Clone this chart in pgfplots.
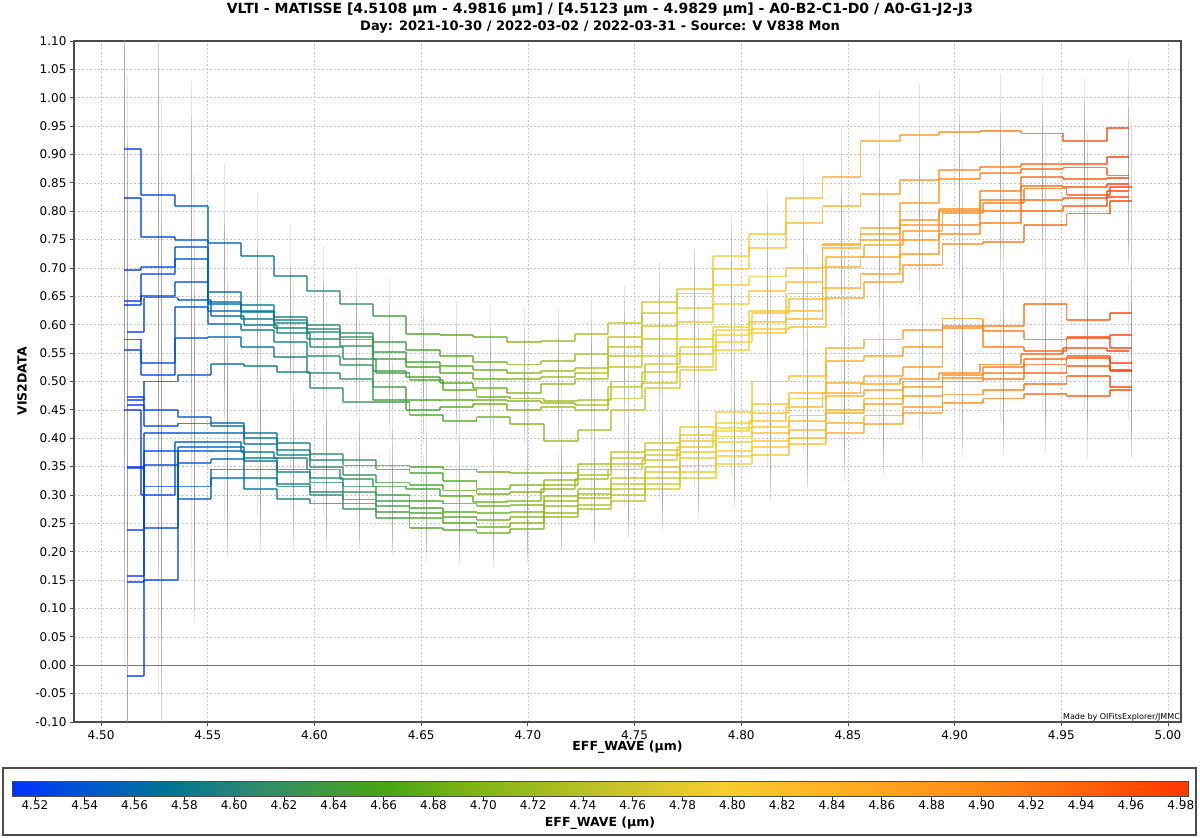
\documentclass[border=0pt]{standalone}
\usepackage{fontspec}
\setmainfont{DejaVu Sans}
\usepackage{pgfplots}
\usepackage{pgfplotstable}
\pgfplotsset{compat=1.18}

% one row per baseline series: s = wavelength-grid shift (0 or 0.0015 um),
% a0..a28 = VIS2DATA in the 29 spectral channels (4.5108 ... 4.9816 um)
\pgfplotstableread{
s a0 a1 a2 a3 a4 a5 a6 a7 a8 a9 a10 a11 a12 a13 a14 a15 a16 a17 a18 a19 a20 a21 a22 a23 a24 a25 a26 a27 a28
0 0.910 0.829 0.809 0.744 0.721 0.686 0.659 0.636 0.615 0.583 0.582 0.578 0.569 0.572 0.583 0.603 0.640 0.663 0.721 0.760 0.823 0.861 0.923 0.935 0.940 0.941 0.937 0.923 0.946
0 0.823 0.754 0.749 0.657 0.635 0.613 0.600 0.585 0.570 0.555 0.545 0.535 0.530 0.536 0.548 0.579 0.620 0.655 0.698 0.735 0.780 0.809 0.830 0.855 0.873 0.878 0.883 0.883 0.896
0 0.696 0.702 0.737 0.640 0.625 0.608 0.592 0.579 0.552 0.535 0.528 0.520 0.515 0.518 0.523 0.560 0.597 0.630 0.670 0.685 0.700 0.743 0.770 0.815 0.857 0.868 0.875 0.877 0.863
0 0.642 0.690 0.716 0.637 0.622 0.603 0.588 0.574 0.540 0.525 0.515 0.505 0.505 0.508 0.515 0.545 0.575 0.605 0.637 0.660 0.675 0.740 0.760 0.785 0.804 0.835 0.860 0.857 0.858
0 0.634 0.650 0.676 0.624 0.610 0.595 0.575 0.563 0.518 0.508 0.497 0.488 0.480 0.495 0.504 0.525 0.545 0.575 0.596 0.625 0.655 0.735 0.750 0.775 0.800 0.820 0.845 0.843 0.848
0.0015 0.588 0.648 0.643 0.615 0.600 0.585 0.560 0.540 0.515 0.502 0.485 0.473 0.470 0.465 0.468 0.500 0.531 0.560 0.590 0.620 0.645 0.720 0.740 0.765 0.797 0.815 0.840 0.829 0.843
0 0.574 0.533 0.632 0.602 0.590 0.570 0.545 0.529 0.490 0.467 0.468 0.467 0.465 0.462 0.459 0.490 0.517 0.548 0.582 0.605 0.625 0.702 0.720 0.750 0.775 0.800 0.820 0.823 0.835
0 0.555 0.511 0.576 0.578 0.560 0.543 0.515 0.505 0.468 0.450 0.455 0.461 0.450 0.455 0.450 0.470 0.497 0.525 0.555 0.585 0.610 0.664 0.690 0.725 0.760 0.780 0.800 0.810 0.825
0.0015 0.467 0.500 0.511 0.531 0.528 0.517 0.488 0.464 0.464 0.441 0.430 0.438 0.425 0.395 0.415 0.450 0.489 0.520 0.570 0.593 0.596 0.647 0.675 0.705 0.742 0.746 0.776 0.796 0.818
0.0015 0.473 0.450 0.438 0.427 0.410 0.391 0.372 0.362 0.352 0.350 0.345 0.341 0.338 0.339 0.354 0.375 0.392 0.420 0.447 0.500 0.509 0.559 0.574 0.590 0.611 0.597 0.637 0.608 0.620
0.0015 0.458 0.422 0.426 0.422 0.400 0.380 0.362 0.352 0.345 0.338 0.325 0.311 0.318 0.327 0.345 0.365 0.380 0.405 0.427 0.460 0.480 0.536 0.545 0.560 0.597 0.589 0.574 0.579 0.582
0.0015 0.349 0.410 0.409 0.409 0.390 0.370 0.350 0.335 0.322 0.318 0.308 0.302 0.305 0.318 0.336 0.355 0.370 0.395 0.418 0.445 0.470 0.497 0.510 0.525 0.594 0.560 0.553 0.576 0.559
0 0.450 0.300 0.394 0.394 0.375 0.365 0.345 0.328 0.315 0.311 0.298 0.288 0.290 0.310 0.328 0.345 0.362 0.385 0.412 0.430 0.455 0.480 0.495 0.505 0.515 0.530 0.548 0.559 0.553
0.0015 0.239 0.353 0.385 0.385 0.365 0.345 0.330 0.315 0.300 0.289 0.285 0.280 0.282 0.298 0.310 0.330 0.350 0.375 0.403 0.420 0.440 0.474 0.485 0.500 0.512 0.525 0.540 0.545 0.533
0.0015 0.157 0.315 0.377 0.378 0.360 0.340 0.322 0.305 0.290 0.277 0.270 0.268 0.270 0.289 0.301 0.320 0.340 0.365 0.394 0.410 0.430 0.450 0.470 0.490 0.506 0.515 0.530 0.541 0.521
0.0015 0.347 0.242 0.356 0.363 0.345 0.320 0.305 0.292 0.280 0.268 0.262 0.256 0.262 0.280 0.295 0.310 0.330 0.352 0.377 0.395 0.415 0.444 0.460 0.475 0.500 0.505 0.515 0.527 0.518
0.0015 0.147 0.151 0.315 0.345 0.330 0.315 0.300 0.285 0.270 0.260 0.250 0.243 0.250 0.268 0.283 0.300 0.320 0.340 0.368 0.385 0.400 0.427 0.440 0.455 0.477 0.485 0.495 0.509 0.491
0.0015 -0.019 0.378 0.293 0.330 0.310 0.293 0.285 0.275 0.260 0.242 0.238 0.233 0.240 0.262 0.275 0.290 0.310 0.330 0.354 0.370 0.390 0.409 0.425 0.445 0.462 0.470 0.478 0.474 0.485
}\T

\pgfplotsset{
  seg/.style={forget plot, mark=none, line width=1.9pt, opacity=0.7},
  ebar/.style={forget plot, mark=none, color=black!40, line width=1pt, opacity=0.25},
}
% horizontal step of channel k: {colormap value}{left edge}{width}{k}
\newcommand\hs[4]{\addplot[seg, color of colormap={#1}, quiver={u=#3, v=0}]
  table[x expr={#2+\thisrow{s}}, y=a#4] {\T};}
% vertical step at right edge of channel k: {colormap value}{edge}{k}{k+1}
\newcommand\vs[4]{\addplot[seg, color of colormap={#1}, quiver={u=0, v=\thisrow{a#4}-\thisrow{a#3}}]
  table[x expr={#2+\thisrow{s}}, y=a#3] {\T};}
% error bar of channel k: {centre}{k}{error}
\newcommand\eb[3]{\addplot[ebar, quiver={u=0, v=2*#3}]
  table[x expr={#1+\thisrow{s}}, y expr={\thisrow{a#2}-#3}] {\T};}

\begin{document}
\begin{tikzpicture}
\begin{axis}[
  name=main,
  scale only axis, width=1107pt, height=681pt,
  xmin=4.4873, xmax=5.0061, ymin=-0.10, ymax=1.10,
  xtick distance=0.05, ytick distance=0.05,
  /pgf/number format/assume math mode=true,
  /pgf/number format/fixed, /pgf/number format/fixed zerofill,
  /pgf/number format/precision=2,
  tick label style={font=\fontsize{12}{14}\selectfont},
  xticklabel style={yshift=-1.5pt},
  label style={font=\bfseries\fontsize{12.5}{15}\selectfont},
  xlabel={EFF\_WAVE (µm)}, ylabel={VIS2DATA},
  xlabel style={at={(axis description cs:0.5,-0.0367)}, anchor=center},
  ylabel style={at={(axis description cs:-0.047,0.5)}, anchor=center},
  grid=major,
  grid style={dash pattern=on 2pt off 2pt, black!22, line width=0.7pt},
  axis line style={black!70, line width=1.5pt},
  tick style={black!70, line width=0.8pt},
  tick align=outside, tick pos=left, major tick length=4pt,
  extra y ticks={0}, extra y tick labels={},
  extra y tick style={major grid style={solid, black!55, line width=0.9pt}},
  colormap={wave}{rgb255(0pt)=(0,50,255) rgb255(34pt)=(0,90,200)
    rgb255(64pt)=(0,118,145) rgb255(95pt)=(45,135,115) rgb255(119pt)=(60,150,75)
    rgb255(149pt)=(70,165,20) rgb255(184pt)=(125,180,20) rgb255(239pt)=(195,195,40)
    rgb255(286pt)=(248,205,45) rgb255(332pt)=(255,175,35) rgb255(393pt)=(255,135,20)
    rgb255(472pt)=(255,55,0)},
  point meta min=4.5108, point meta max=4.9829,
  colorbar horizontal,
  colorbar style={
    at={(parent axis.south)}, anchor=north,
    xshift=-27.5pt, yshift=-51pt,
    scale only axis, width=1176pt, height=15pt,
    xtick distance=0.02, ytick=\empty,
    xticklabel={\pgfmathprintnumber[assume math mode=true,fixed,fixed zerofill,precision=2]{\tick}},
    tick label style={font=\fontsize{12}{14}\selectfont},
    xticklabel style={yshift=3.5pt},
    xlabel={EFF\_WAVE (µm)},
    xlabel style={font=\bfseries\fontsize{12.5}{15}\selectfont,
      at={(axis description cs:0.5,-1.75)}, anchor=center},
    axis line style={black!70, line width=0.8pt},
    tick style={black!80, line width=0.8pt},
    tick align=outside, tick pos=left, major tick length=4pt,
  },
]
% error bars
\eb{4.5108}{0}{0.45}\eb{4.5267}{1}{0.35}\eb{4.5424}{2}{0.22}\eb{4.5579}{3}{0.14}
\eb{4.5733}{4}{0.11}\eb{4.5888}{5}{0.09}\eb{4.6043}{6}{0.08}\eb{4.6197}{7}{0.07}
\eb{4.6352}{8}{0.065}\eb{4.6509}{9}{0.06}\eb{4.6666}{10}{0.06}\eb{4.6823}{11}{0.06}
\eb{4.6982}{12}{0.06}\eb{4.7142}{13}{0.06}\eb{4.7298}{14}{0.06}\eb{4.7455}{15}{0.065}
\eb{4.7617}{16}{0.07}\eb{4.7783}{17}{0.07}\eb{4.7952}{18}{0.075}\eb{4.8123}{19}{0.08}
\eb{4.8294}{20}{0.08}\eb{4.8468}{21}{0.085}\eb{4.8650}{22}{0.09}\eb{4.8835}{23}{0.09}
\eb{4.9021}{24}{0.095}\eb{4.9213}{25}{0.10}\eb{4.9410}{26}{0.10}\eb{4.9609}{27}{0.11}
\eb{4.9816}{28}{0.12}
% horizontal steps
\hs{0}{4.5108}{0.00795}{0}\hs{33.7}{4.51875}{0.0158}{1}\hs{66.9}{4.53455}{0.0156}{2}
\hs{99.8}{4.55015}{0.01545}{3}\hs{132.4}{4.5656}{0.01545}{4}\hs{165.2}{4.58105}{0.0155}{5}
\hs{198.1}{4.59655}{0.01545}{6}\hs{230.7}{4.612}{0.01545}{7}\hs{263.5}{4.62745}{0.0156}{8}
\hs{296.8}{4.64305}{0.0157}{9}\hs{330.0}{4.65875}{0.0157}{10}\hs{363.3}{4.67445}{0.0158}{11}
\hs{397.0}{4.69025}{0.01595}{12}\hs{430.8}{4.7062}{0.0158}{13}\hs{463.9}{4.722}{0.01565}{14}
\hs{497.1}{4.73765}{0.01595}{15}\hs{531.5}{4.7536}{0.0164}{16}\hs{566.6}{4.77}{0.01675}{17}
\hs{602.4}{4.78675}{0.017}{18}\hs{638.6}{4.80375}{0.0171}{19}\hs{674.9}{4.82085}{0.01725}{20}
\hs{711.7}{4.8381}{0.0178}{21}\hs{750.3}{4.8559}{0.01835}{22}\hs{789.5}{4.87425}{0.01855}{23}
\hs{828.9}{4.8928}{0.0189}{24}\hs{869.5}{4.9117}{0.01945}{25}\hs{911.3}{4.93115}{0.0198}{26}
\hs{953.4}{4.95095}{0.0203}{27}\hs{997.2}{4.97125}{0.01035}{28}
% vertical steps
\vs{16.8}{4.51875}{0}{1}\vs{50.3}{4.53455}{1}{2}\vs{83.4}{4.55015}{2}{3}
\vs{116.1}{4.5656}{3}{4}\vs{148.8}{4.58105}{4}{5}\vs{181.7}{4.59655}{5}{6}
\vs{214.4}{4.612}{6}{7}\vs{247.1}{4.62745}{7}{8}\vs{280.2}{4.64305}{8}{9}
\vs{313.4}{4.65875}{9}{10}\vs{346.7}{4.67445}{10}{11}\vs{380.2}{4.69025}{11}{12}
\vs{413.9}{4.7062}{12}{13}\vs{447.4}{4.722}{13}{14}\vs{480.5}{4.73765}{14}{15}
\vs{514.3}{4.7536}{15}{16}\vs{549.1}{4.77}{16}{17}\vs{584.5}{4.78675}{17}{18}
\vs{620.5}{4.80375}{18}{19}\vs{656.8}{4.82085}{19}{20}\vs{693.3}{4.8381}{20}{21}
\vs{731.0}{4.8559}{21}{22}\vs{769.9}{4.87425}{22}{23}\vs{809.2}{4.8928}{23}{24}
\vs{849.2}{4.9117}{24}{25}\vs{890.4}{4.93115}{25}{26}\vs{932.4}{4.95095}{26}{27}
\vs{975.3}{4.97125}{27}{28}
\node[anchor=south east, font=\fontsize{8}{9}\selectfont, inner sep=1pt]
  at (rel axis cs:1,0) {Made by OIFitsExplorer/JMMC};
\end{axis}
\draw[black!70, line width=1.2pt] ([shift={(-71pt,-46pt)}]main.south west)
  rectangle ([shift={(1122pt,-113pt)}]main.south west);
\node[font=\bfseries\fontsize{14}{16}\selectfont] at ([shift={(526pt,712pt)}]main.south west)
  {VLTI - MATISSE [4.5108 µm - 4.9816 µm] / [4.5123 µm - 4.9829 µm] - A0-B2-C1-D0 / A0-G1-J2-J3};
\node[font=\bfseries\fontsize{13}{15}\selectfont] at ([shift={(526pt,694.5pt)}]main.south west)
  {Day: 2021-10-30 / 2022-03-02 / 2022-03-31 - Source: V V838 Mon};
\pgfresetboundingbox
\path[use as bounding box] ([shift={(-74pt,-116pt)}]main.south west)
  rectangle ([shift={(1126pt,722pt)}]main.south west);
\end{tikzpicture}
\end{document}
